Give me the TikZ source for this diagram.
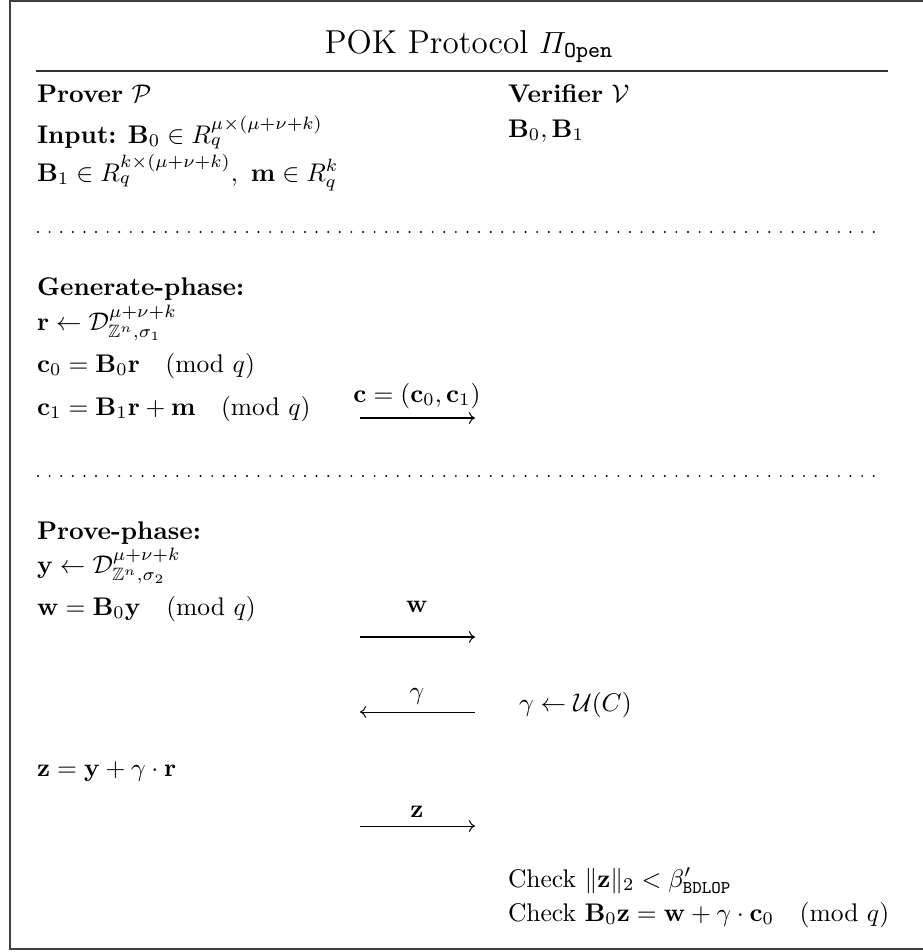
\documentclass[tikz,border=0pt]{standalone}
\usepackage{amsmath,amssymb}
\usetikzlibrary{arrows.meta}
\begin{document}
\begin{tikzpicture}[x=0.392pt,y=-0.392pt,
  txt/.style={anchor=base west, inner sep=0pt, outer sep=0pt},
  lbl/.style={anchor=base, inner sep=0pt, outer sep=0pt},
  msg/.style={-{To[length=2.4pt,width=4.6pt]}, line width=0.4pt},
  sepline/.style={line width=0.85pt, line cap=round, dash pattern=on 0pt off 4.55pt},
]
\useasboundingbox (0,0) rectangle (923,952);
\draw[line width=0.55pt, black!75] (10,0.8) rectangle (945,949);
\node[lbl, font=\fontsize{13}{15}\selectfont] (title) at (469,53) {POK Protocol $\varPi_{\mathtt{Open}}$};
\draw[line width=0.55pt, black!80] (36,71) coordinate (r1) -- (888,71) coordinate (r2);

\node[txt] (prover) at (37,102) {\textbf{Prover} $\mathcal{P}$};
\node[txt] (verifier) at (508,102) {\textbf{Verifier} $\mathcal{V}$};
\node[txt] (input) at (37,143) {\textbf{Input:} $\mathbf{B}_0\in R_q^{\mu\times(\mu+\nu+k)}$};
\node[txt] (vin) at (508,137) {$\mathbf{B}_0,\mathbf{B}_1$};
\node[txt] (input2) at (37,181) {$\mathbf{B}_1\in R_q^{k\times(\mu+\nu+k)},\ \mathbf{m}\in R_q^k$};

\draw[sepline] (38,232) coordinate (d1a) -- (884,232) coordinate (d1b);

\node[txt] (gen) at (37,295) {\textbf{Generate-phase:}};
\node[txt] (rr) at (37,330) {$\mathbf{r}\leftarrow\mathcal{D}_{\mathbb{Z}^n,\sigma_1}^{\mu+\nu+k}$};
\node[txt] (c0) at (37,372) {$\mathbf{c}_0=\mathbf{B}_0\mathbf{r}\quad(\mathrm{mod}\ q)$};
\node[txt] (c1) at (37,415) {$\mathbf{c}_1=\mathbf{B}_1\mathbf{r}+\mathbf{m}\quad(\mathrm{mod}\ q)$};
\coordinate (ca) at (360,418);
\coordinate (cb) at (475,418);
\draw[msg] (ca) -- (cb);
\node[lbl] (cl) at (417,402) {$\mathbf{c}=(\mathbf{c}_0,\mathbf{c}_1)$};

\draw[sepline] (38,476) coordinate (d2a) -- (884,476) coordinate (d2b);

\node[txt] (prove) at (37,539) {\textbf{Prove-phase:}};
\node[txt] (yy) at (37,573) {$\mathbf{y}\leftarrow\mathcal{D}_{\mathbb{Z}^n,\sigma_2}^{\mu+\nu+k}$};
\node[txt] (ww) at (37,615) {$\mathbf{w}=\mathbf{B}_0\mathbf{y}\quad(\mathrm{mod}\ q)$};
\coordinate (wa) at (360,637);
\coordinate (wb) at (475,637);
\draw[msg] (wa) -- (wb);
\node[lbl] (wl) at (417,612) {$\mathbf{w}$};

\coordinate (ga) at (475,712);
\coordinate (gb) at (360,712);
\draw[msg] (ga) -- (gb);
\node[lbl] (gl) at (417,699) {$\gamma$};
\node[txt] (gsamp) at (519,711) {$\gamma\leftarrow\mathcal{U}(C)$};

\node[txt] (zz) at (37,776) {$\mathbf{z}=\mathbf{y}+\gamma\cdot\mathbf{r}$};
\coordinate (za) at (360,826);
\coordinate (zb) at (475,826);
\draw[msg] (za) -- (zb);
\node[lbl] (zl) at (417,817) {$\mathbf{z}$};

\node[txt] (chk1) at (508,887) {Check $\|\mathbf{z}\|_2<\beta'_{\mathtt{BDLOP}}$};
\node[txt] (chk2) at (508,921) {Check $\mathbf{B}_0\mathbf{z}=\mathbf{w}+\gamma\cdot\mathbf{c}_0\quad(\mathrm{mod}\ q)$};
\end{tikzpicture}
\end{document}
